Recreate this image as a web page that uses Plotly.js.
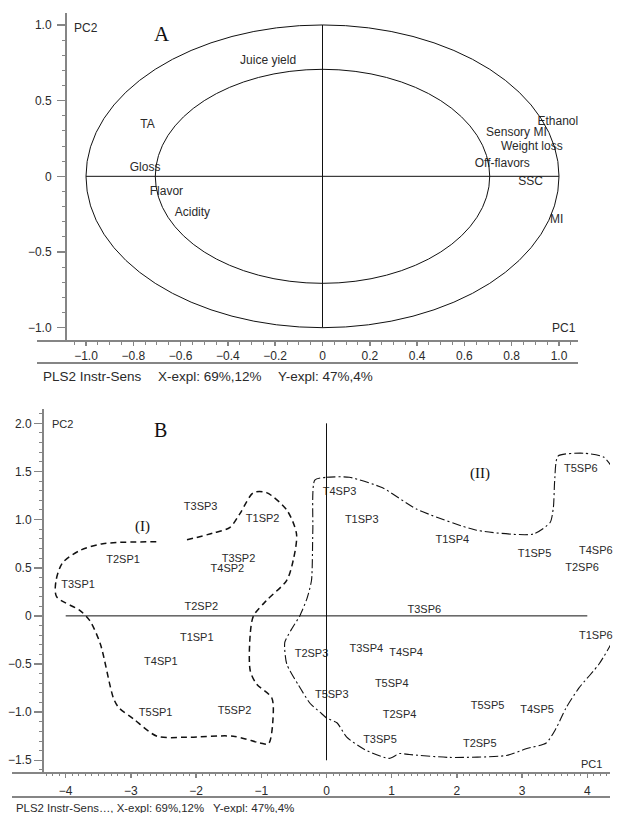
<!DOCTYPE html>
<html>
<head>
<meta charset="utf-8">
<script src="https://cdn.plot.ly/plotly-3.0.1.min.js"></script>
<style>html,body{margin:0;padding:0;background:#fff;}#chart{width:625px;height:813px;}</style>
</head>
<body>
<div id="chart"></div>
<script>
// ---- Panel A: correlation loadings ----
const loadingLabels = ["Juice yield","TA","Gloss","Flavor","Acidity","Ethanol","Sensory MI","Weight loss","Acetaldehyde","Off-flavors","SSC","MI"];
const loadingX = [-0.23,-0.74,-0.75,-0.66,-0.55,0.995,0.82,0.885,1.12,0.76,0.88,0.99];
const loadingY = [0.762,0.339,0.055,-0.104,-0.243,0.359,0.286,0.194,0.114,0.081,-0.038,-0.289];
const circleRadii = [1.0, 0.707];

const axATickVals = [-1.0,-0.8,-0.6,-0.4,-0.2,0,0.2,0.4,0.6,0.8,1.0];
const axATickText = ["\u22121.0","\u22120.8","\u22120.6","\u22120.4","\u22120.2","0","0.2","0.4","0.6","0.8","1.0"];
const ayATickVals = [1.0,0.5,0,-0.5,-1.0];
const ayATickText = ["1.0","0.5","0","\u22120.5","\u22121.0"];

// ---- Panel B: scores ----
const scoreLabels = ["T3SP3","T1SP2","T2SP1","T3SP2","T4SP2","T3SP1","T2SP2","T1SP1","T4SP1","T5SP1","T5SP2",
  "T4SP3","T1SP3","T1SP4","T1SP5","T5SP6","T4SP6","T2SP6","T3SP6","T1SP6","T2SP3","T3SP4","T4SP4","T5SP4","T5SP3","T5SP5","T4SP5","T2SP4","T3SP5","T2SP5"];
const scoreX = [-1.93,-0.98,-3.12,-1.35,-1.52,-3.81,-1.92,-1.99,-2.54,-2.62,-1.41,
  0.2,0.54,1.93,3.19,3.9,4.13,3.92,1.5,4.13,-0.23,0.61,1.22,1.0,0.08,2.47,3.23,1.12,0.82,2.35];
const scoreY = [1.13,1.0,0.58,0.59,0.48,0.32,0.09,-0.23,-0.48,-1.01,-0.99,
  1.28,0.99,0.79,0.64,1.52,0.67,0.5,0.06,-0.21,-0.40,-0.35,-0.39,-0.71,-0.82,-0.94,-0.98,-1.03,-1.29,-1.33];

const groupIX = [-2.14,-1.74,-1.48,-1.33,-1.12,-0.92,-0.61,-0.46,-0.51,-0.61,-0.92,-1.12,-1.17,-1.17,-1.07,-0.84,-0.82,-0.89,-1.02,-1.43,-2.14,-2.6,-2.96,-3.19,-3.27,-3.47,-3.63,-3.78,-4.14,-4.15,-4.05,-3.78,-3.43,-2.56];
const groupIY = [0.79,0.86,0.92,1.06,1.28,1.28,1.1,0.85,0.58,0.37,0.16,0.0,-0.19,-0.57,-0.71,-0.85,-1.06,-1.33,-1.32,-1.25,-1.26,-1.25,-1.07,-0.95,-0.85,-0.29,-0.05,0.055,0.2,0.36,0.55,0.68,0.75,0.77];

const groupIIX = [-0.18,0.0,0.35,0.86,1.38,2.3,3.17,3.43,3.48,3.5,3.55,3.94,4.25,4.37,4.4,4.41,4.49,4.41,4.41,4.43,4.18,3.87,3.67,3.52,3.37,3.06,2.76,1.88,1.27,1.12,0.96,0.59,0.31,0.16,0.0,-0.1,-0.25,-0.43,-0.61,-0.64,-0.52,-0.41,-0.3,-0.23,-0.21,-0.18];
const groupIIY = [1.41,1.44,1.44,1.33,1.11,0.89,0.85,0.97,1.13,1.41,1.66,1.69,1.65,1.55,1.41,0.85,0.57,0.29,0.125,-0.19,-0.5,-0.75,-0.96,-1.17,-1.32,-1.38,-1.45,-1.47,-1.44,-1.43,-1.48,-1.39,-1.26,-1.11,-1.06,-1.0,-0.91,-0.72,-0.5,-0.275,-0.12,0.0,0.18,0.37,0.89,1.41];

const axBTickVals = [-4,-3,-2,-1,0,1,2,3,4];
const axBTickText = ["\u22124","\u22123","\u22122","\u22121","0","1","2","3","4"];
const ayBTickVals = [2.0,1.5,1.0,0.5,0,-0.5,-1.0,-1.5];
const ayBTickText = ["2.0","1.5","1.0","0.5","0","\u22120.5","\u22121.0","\u22121.5"];

const W = 625, H = 813;
const px = v => v / W;
const py = v => 1 - v / H;
const FONT = "Liberation Sans, Arial, sans-serif";
const SERIF = "Liberation Serif, Times New Roman, serif";
const TXT = "#2a2a2a";
const AXC = "#858585";

const traces = [
  {x: loadingX, y: loadingY, text: loadingLabels, mode: "text", type: "scatter",
   textposition: "middle center", textfont: {family: FONT, size: 12, color: TXT},
   cliponaxis: false, hoverinfo: "none", xaxis: "x", yaxis: "y"},
  {x: groupIX, y: groupIY, mode: "lines", type: "scatter",
   line: {color: "#111", width: 1.5, dash: "6px,4px", shape: "spline", smoothing: 0.8},
   hoverinfo: "none", xaxis: "x2", yaxis: "y2"},
  {x: groupIIX, y: groupIIY, mode: "lines", type: "scatter",
   line: {color: "#111", width: 1.1, dash: "9px,3px,2px,3px", shape: "spline", smoothing: 0.6},
   hoverinfo: "none", xaxis: "x2", yaxis: "y2"},
  {x: scoreX, y: scoreY, text: scoreLabels, mode: "text", type: "scatter",
   textposition: "middle center", textfont: {family: FONT, size: 11, color: TXT},
   cliponaxis: false, hoverinfo: "none", xaxis: "x2", yaxis: "y2"}
];

const shapes = [];
circleRadii.forEach(r => shapes.push({type: "circle", xref: "x", yref: "y", x0: -r, x1: r, y0: -r, y1: r,
  line: {color: "#111", width: 1}}));
shapes.push({type: "line", xref: "x", yref: "y", x0: -1, x1: 1, y0: 0, y1: 0, line: {color: "#111", width: 1}});
shapes.push({type: "line", xref: "x", yref: "y", x0: 0, x1: 0, y0: -1, y1: 1, line: {color: "#111", width: 1}});
shapes.push({type: "line", xref: "x2", yref: "y2", x0: -4, x1: 4, y0: 0, y1: 0, line: {color: "#111", width: 1}});
shapes.push({type: "line", xref: "x2", yref: "y2", x0: 0, x1: 0, y0: -1.5, y1: 2.0, line: {color: "#111", width: 1}});
// axis baselines and lower rules
[[37,578,341],[37,578,363],[12,610,773],[12,610,797]].forEach(s => shapes.push({
  type: "line", xref: "paper", yref: "paper", x0: px(s[0]), x1: px(s[1]), y0: py(s[2]), y1: py(s[2]),
  line: {color: AXC, width: 2}}));

const ann = (x, y, text, opts) => Object.assign({x, y, text, showarrow: false,
  font: {family: FONT, size: 12, color: TXT}}, opts || {});

const annotations = [
  ann(-0.68, 0.94, "A", {xref: "x", yref: "y", font: {family: SERIF, size: 21, color: "#111"}}),
  ann(-1.06, 0.978, "PC2", {xref: "x", yref: "y", xanchor: "left"}),
  ann(1.08, -1.005, "PC1", {xref: "x", yref: "y", xanchor: "right"}),
  ann(-2.54, 1.93, "B", {xref: "x2", yref: "y2", font: {family: SERIF, size: 20, color: "#111"}}),
  ann(-4.24, 1.99, "PC2", {xref: "x2", yref: "y2", xanchor: "left", font: {family: FONT, size: 11, color: TXT}}),
  ann(4.25, -1.54, "PC1", {xref: "x2", yref: "y2", xanchor: "right", font: {family: FONT, size: 11, color: TXT}}),
  ann(-2.82, 0.93, "(I)", {xref: "x2", yref: "y2", font: {family: SERIF, size: 15, color: "#111"}}),
  ann(2.36, 1.48, "(II)", {xref: "x2", yref: "y2", font: {family: SERIF, size: 15, color: "#111"}}),
  ann(px(40.5), py(377), "PLS2 Instr-Sens", {xref: "paper", yref: "paper", xanchor: "left", yanchor: "middle", font: {family: FONT, size: 13.5, color: TXT}}),
  ann(px(155.5), py(377), "X-expl: 69%,12%", {xref: "paper", yref: "paper", xanchor: "left", yanchor: "middle", font: {family: FONT, size: 13.5, color: TXT}}),
  ann(px(275.5), py(377), "Y-expl: 47%,4%", {xref: "paper", yref: "paper", xanchor: "left", yanchor: "middle", font: {family: FONT, size: 13.5, color: TXT}}),
  ann(px(14), py(807.5), "PLS2 Instr-Sens\u2026, X-expl: 69%,12%", {xref: "paper", yref: "paper", xanchor: "left", yanchor: "middle", font: {family: FONT, size: 11.4, color: TXT}}),
  ann(px(211), py(807.5), "Y-expl: 47%,4%", {xref: "paper", yref: "paper", xanchor: "left", yanchor: "middle", font: {family: FONT, size: 11.6, color: TXT}})
];

const baseAxis = {showgrid: false, zeroline: false, fixedrange: true,
  tickfont: {family: FONT, size: 12, color: TXT}, tickcolor: AXC, tickwidth: 1.5};

const layout = {
  width: W, height: H, margin: {l: 0, r: 0, t: 0, b: 0},
  paper_bgcolor: "#fff", plot_bgcolor: "#fff", showlegend: false,
  xaxis: Object.assign({}, baseAxis, {domain: [px(67), px(578)], range: [-1.0803, 1.0803], anchor: "y",
    showline: false, ticks: "outside", ticklen: 4, tickmode: "array", tickvals: axATickVals, ticktext: axATickText,
    minor: {tickmode: "linear", tick0: 0, dtick: 0.05, ticks: "outside", ticklen: 3, tickcolor: AXC, tickwidth: 1}}),
  yaxis: Object.assign({}, baseAxis, {domain: [py(341), py(13)], range: [-1.088, 1.079], anchor: "x",
    showline: true, linecolor: AXC, linewidth: 2, ticks: "outside", ticklen: 8, ticklabelstandoff: 3,
    tickmode: "array", tickvals: ayATickVals, ticktext: ayATickText,
    minor: {tickmode: "linear", tick0: 0, dtick: 0.1, ticks: "outside", ticklen: 3, tickcolor: AXC, tickwidth: 1}}),
  xaxis2: Object.assign({}, baseAxis, {domain: [px(44), px(610)], range: [-4.333, 4.348], anchor: "y2",
    showline: false, ticks: "outside", ticklen: 4, ticklabelstandoff: 3, tickmode: "array", tickvals: axBTickVals, ticktext: axBTickText,
    minor: {tickmode: "linear", tick0: 0, dtick: 0.1, ticks: "outside", ticklen: 2, tickcolor: AXC, tickwidth: 1}}),
  yaxis2: Object.assign({}, baseAxis, {domain: [py(773), py(409)], range: [-1.632, 2.149], anchor: "x2",
    showline: true, linecolor: AXC, linewidth: 2, ticks: "outside", ticklen: 8,
    tickmode: "array", tickvals: ayBTickVals, ticktext: ayBTickText,
    minor: {tickmode: "linear", tick0: 0, dtick: 0.1, ticks: "outside", ticklen: 3, tickcolor: AXC, tickwidth: 1}}),
  shapes, annotations
};

Plotly.newPlot("chart", traces, layout, {staticPlot: true, displayModeBar: false});
</script>
</body>
</html>
